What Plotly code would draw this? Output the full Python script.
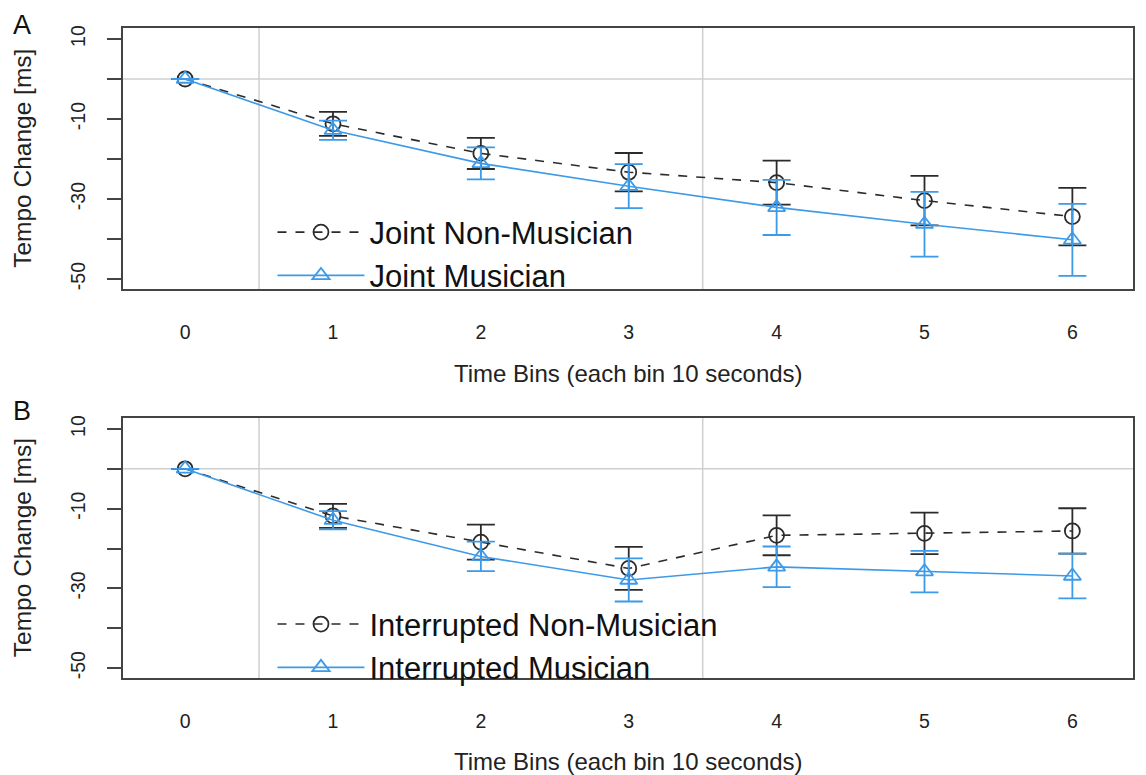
import plotly.graph_objects as go

# ---- data ----
time_bins = [0, 1, 2, 3, 4, 5, 6]
x_tick_labels = ["0", "1", "2", "3", "4", "5", "6"]
y_tick_vals = [10, 0, -10, -20, -30, -40, -50]
y_tick_text = ["10", "", "-10", "", "-30", "", "-50"]

joint_nonmus_mean = [0, -11.2, -18.6, -23.3, -25.9, -30.4, -34.4]
joint_nonmus_err = [0, 3.0, 3.9, 4.8, 5.5, 6.2, 7.2]
joint_mus_mean = [0, -12.8, -21.1, -26.8, -32.1, -36.3, -40.2]
joint_mus_err = [0, 2.4, 4.0, 5.5, 6.9, 8.1, 9.0]

int_nonmus_mean = [0, -11.8, -18.4, -25.0, -16.7, -16.2, -15.6]
int_nonmus_err = [0, 3.0, 4.4, 5.4, 5.0, 5.2, 5.7]
int_mus_mean = [0, -12.9, -22.0, -27.9, -24.6, -25.8, -26.9]
int_mus_err = [0, 2.3, 3.7, 5.4, 5.1, 5.2, 5.6]

grid_x = [0.5, 3.5]
grid_y = [0]

BLACK = "#2b2b2b"
BLUE = "#3d9ae8"
FONT = "Liberation Sans, Arial, sans-serif"

fig = go.Figure()


def add_series(x, y, err, name, color, dash, symbol, xa, ya, legend):
    fig.add_trace(go.Scatter(
        x=x, y=y, name=name, mode="lines+markers",
        line=dict(color=color, width=1.6, dash=dash),
        marker=dict(symbol=symbol, size=15, color=color,
                    line=dict(color=color, width=1.8)),
        error_y=dict(type="data", array=err, visible=True, color=color,
                     thickness=1.8, width=14),
        xaxis=xa, yaxis=ya, legend=legend,
    ))


add_series(time_bins, joint_nonmus_mean, joint_nonmus_err, "Joint Non-Musician",
           BLACK, "dash", "circle-open", "x", "y", "legend")
add_series(time_bins, joint_mus_mean, joint_mus_err, "Joint Musician",
           BLUE, "solid", "triangle-up-open", "x", "y", "legend")
add_series(time_bins, int_nonmus_mean, int_nonmus_err, "Interrupted Non-Musician",
           BLACK, "dash", "circle-open", "x2", "y2", "legend2")
add_series(time_bins, int_mus_mean, int_mus_err, "Interrupted Musician",
           BLUE, "solid", "triangle-up-open", "x2", "y2", "legend2")

# grid lines
shapes = []
for xr, yr in [("x", "y"), ("x2", "y2")]:
    for gx in grid_x:
        shapes.append(dict(type="line", xref=xr, yref=yr + " domain", x0=gx, x1=gx,
                           y0=0, y1=1, line=dict(color="#cfcfcf", width=1.5), layer="below"))
    for gy in grid_y:
        shapes.append(dict(type="line", xref=xr + " domain", yref=yr, x0=0, x1=1,
                           y0=gy, y1=gy, line=dict(color="#cfcfcf", width=1.5), layer="below"))

xaxis_common = dict(
    range=[-0.42, 6.41], tickvals=time_bins, ticktext=x_tick_labels,
    showgrid=False, zeroline=False, showline=True, mirror=True,
    linecolor="#444444", linewidth=1.5, ticks="", ticklabelstandoff=25,
    tickfont=dict(size=19.5, color="#222222", family=FONT),
)
yaxis_common = dict(
    range=[-52.5, 12.75], tickvals=y_tick_vals, ticktext=y_tick_text,
    showgrid=False, zeroline=False, showline=True, mirror=True,
    linecolor="#444444", linewidth=1.5, ticks="outside", ticklen=14,
    tickcolor="#444444", tickwidth=1.5, tickangle=-90, ticklabelstandoff=14,
    tickfont=dict(size=19.5, color="#222222", family=FONT),
)

legend_common = dict(
    bgcolor="rgba(0,0,0,0)", borderwidth=0, xanchor="left", yanchor="top",
    font=dict(size=31, color="#111111", family=FONT), tracegroupgap=0,
    itemwidth=87,
)

fig.update_layout(
    width=1138, height=767,
    margin=dict(l=115, r=11, t=20, b=97),
    paper_bgcolor="white", plot_bgcolor="white",
    font=dict(family=FONT, color="#222222"),
    xaxis=dict(domain=[0, 1], anchor="y", **xaxis_common),
    yaxis=dict(domain=[0.5985, 1], anchor="x", **yaxis_common),
    xaxis2=dict(domain=[0, 1], anchor="y2", **xaxis_common),
    yaxis2=dict(domain=[0, 0.4], anchor="x2", **yaxis_common),
    legend=dict(x=0.148, y=0.727, **legend_common),
    legend2=dict(x=0.148, y=0.124, **legend_common),
    shapes=shapes,
    showlegend=True,
    annotations=[
        dict(text="A", xref="paper", yref="paper", x=-0.0998, y=1.0308,
             showarrow=False, font=dict(size=27, color="#111111"), xanchor="center", yanchor="top"),
        dict(text="B", xref="paper", yref="paper", x=-0.0998, y=0.4108,
             showarrow=False, font=dict(size=27, color="#111111"), xanchor="center", yanchor="middle"),
        dict(text="Tempo Change [ms]", xref="paper", yref="paper", x=-0.0998, y=0.799,
             textangle=-90, showarrow=False, font=dict(size=24.5, color="#222222"),
             xanchor="center", yanchor="middle"),
        dict(text="Tempo Change [ms]", xref="paper", yref="paper", x=-0.0998, y=0.2,
             textangle=-90, showarrow=False, font=dict(size=24.5, color="#222222"),
             xanchor="center", yanchor="middle"),
        dict(text="Time Bins (each bin 10 seconds)", xref="paper", yref="paper", x=0.5, y=0.4677,
             showarrow=False, font=dict(size=24, color="#222222"), xanchor="center", yanchor="middle"),
        dict(text="Time Bins (each bin 10 seconds)", xref="paper", yref="paper", x=0.5, y=-0.129,
             showarrow=False, font=dict(size=24, color="#222222"), xanchor="center", yanchor="middle"),
    ],
)

fig.write_html("out.html")
